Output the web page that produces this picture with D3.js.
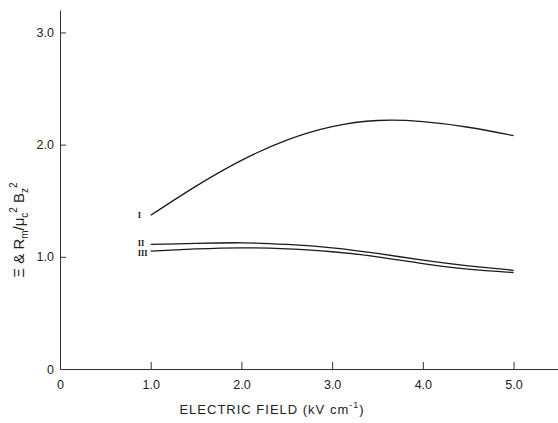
<!DOCTYPE html>
<html lang="en">
  <head>
    <meta charset="UTF-8" />
    <title>Electric field chart</title>
    <style>
      body {
        margin: 0;
        background: #fff;
      }
      svg text {
        font-family: "Liberation Sans", "DejaVu Sans", sans-serif;
        fill: #222;
      }
      .curve {
        fill: none;
        stroke: #1a1a1a;
        stroke-width: 1.3;
      }
      .axis path,
      .axis line {
        stroke: #333;
      }
      .roman {
        font-family: "Liberation Serif", "DejaVu Serif", serif !important;
        font-weight: bold;
      }
    </style>
    <script src="https://cdn.jsdelivr.net/npm/d3@7"></script>
  </head>
  <body>
    <div class="chart-box"></div>
    <script>
      // values
      const fieldX = [1.0, 1.5, 2.0, 2.5, 3.0, 3.5, 4.0, 4.5, 5.0];
      const curveI = [1.37, 1.63, 1.86, 2.04, 2.16, 2.215, 2.205, 2.155, 2.08];
      const curveII = [1.11, 1.12, 1.125, 1.11, 1.08, 1.03, 0.97, 0.92, 0.88];
      const curveIII = [1.05, 1.07, 1.08, 1.07, 1.045, 1.0, 0.94, 0.89, 0.86];
      const seriesNames = ["I", "II", "III"];
      const xTicks = [0, 1, 2, 3, 4, 5];
      const yTicks = [0, 1, 2, 3];

      function init() {
        const W = 558,
          H = 423;
        const margin = { top: 10, right: 0, bottom: 54, left: 60 };
        const width = W - margin.left - margin.right;
        const height = H - margin.top - margin.bottom;

        const svg = d3
          .select(".chart-box")
          .append("svg")
          .attr("width", W)
          .attr("height", H);

        const x = d3.scaleLinear().domain([0, 5.49]).range([0, width]);
        const y = d3.scaleLinear().domain([0, 3.2]).range([height, 0]);

        const g = svg
          .append("g")
          .attr("transform", "translate(" + margin.left + "," + margin.top + ")");

        // x axis, ticks pointing up
        const xAxis = g
          .append("g")
          .attr("class", "axis")
          .attr("transform", "translate(0," + height + ")")
          .call(
            d3
              .axisBottom(x)
              .tickValues(xTicks)
              .tickSizeInner(-7)
              .tickSizeOuter(0)
              .tickPadding(11)
              .tickFormat((d) => (d === 0 ? "0" : d3.format(".1f")(d)))
          );
        xAxis.selectAll(".tick").filter((d) => d === 0).select("line").remove();
        xAxis.selectAll("text").attr("font-size", 12.5);

        // y axis, ticks pointing right
        const yAxis = g
          .append("g")
          .attr("class", "axis")
          .call(
            d3
              .axisLeft(y)
              .tickValues(yTicks)
              .tickSizeInner(-6)
              .tickSizeOuter(0)
              .tickPadding(6)
              .tickFormat((d) => (d === 0 ? "0" : d3.format(".1f")(d)))
          );
        yAxis.selectAll(".tick").filter((d) => d === 0).select("line").remove();
        yAxis.selectAll("text").attr("font-size", 12.5);

        const line = d3
          .line()
          .x((d) => x(d[0]))
          .y((d) => y(d[1]))
          .curve(d3.curveNatural);

        // little nudges so the II / III labels sit one above the other
        const labelShift = [0, -1.5, 1.5];
        const series = [curveI, curveII, curveIII];
        series.forEach((vals, i) => {
          const pts = fieldX.map((fx, j) => [fx, vals[j]]);
          g.append("path").attr("class", "curve").attr("d", line(pts));
          g.append("text")
            .attr("class", "roman")
            .attr("x", x(fieldX[0]) - 13)
            .attr("y", y(vals[0]) + labelShift[i])
            .attr("dy", "0.35em")
            .attr("text-anchor", "start")
            .attr("font-size", 8.5)
            .text(seriesNames[i]);
        });

        // axis titles
        svg
          .append("text")
          .attr("x", 272)
          .attr("y", 414)
          .attr("text-anchor", "middle")
          .attr("font-size", 13)
          .attr("letter-spacing", 1)
          .html('ELECTRIC FIELD (kV cm<tspan dy="-6" font-size="9">-1</tspan><tspan dy="6">)</tspan>');

        svg
          .append("text")
          .attr("transform", "translate(24,230) rotate(-90)")
          .attr("text-anchor", "middle")
          .attr("font-size", 15)
          .html(
            'Ξ &amp; R<tspan dy="4" font-size="10">m</tspan><tspan dy="-4">/μ</tspan>' +
              '<tspan dy="4" font-size="10">c</tspan><tspan dy="-11" font-size="10">2</tspan>' +
              '<tspan dy="7"> B</tspan><tspan dy="4" font-size="10">z</tspan>' +
              '<tspan dy="-11" font-size="10">2</tspan>'
          );
      }

      init();
    </script>
  </body>
</html>
